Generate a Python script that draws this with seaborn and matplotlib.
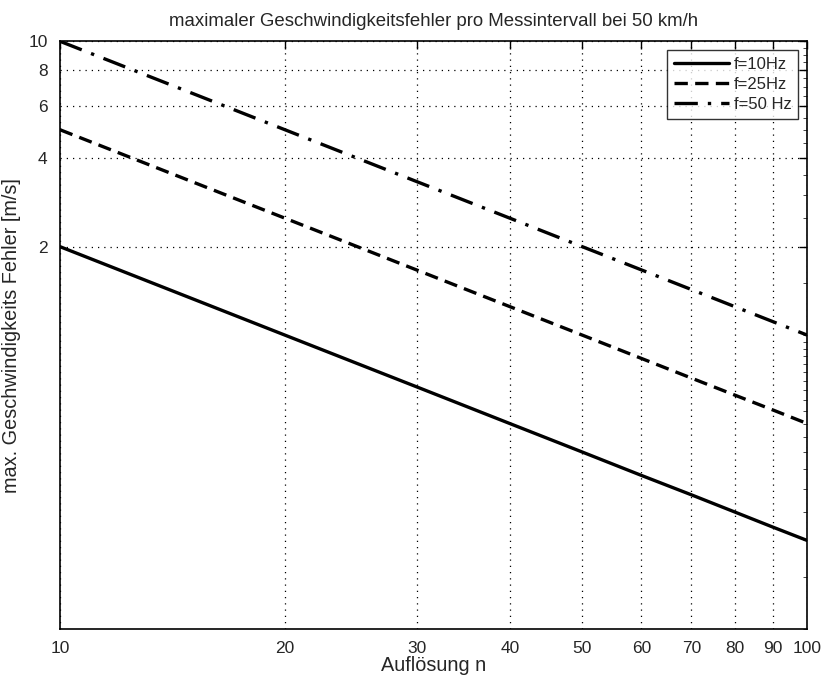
import numpy as np
import pandas as pd
import matplotlib
matplotlib.use("Agg")
import matplotlib.pyplot as plt
from matplotlib.ticker import FixedLocator, FixedFormatter, LogLocator, NullFormatter
import seaborn as sns

# --- Daten ---
aufloesung_n = [10, 20, 30, 40, 50, 60, 70, 80, 90, 100]
fehler_10hz = [2.0, 1.0, 0.667, 0.5, 0.4, 0.333, 0.286, 0.25, 0.222, 0.2]
fehler_25hz = [5.0, 2.5, 1.667, 1.25, 1.0, 0.833, 0.714, 0.625, 0.556, 0.5]
fehler_50hz = [10.0, 5.0, 3.333, 2.5, 2.0, 1.667, 1.429, 1.25, 1.111, 1.0]
serien = ["f=10Hz", "f=25Hz", "f=50 Hz"]

x_ticks = [10, 20, 30, 40, 50, 60, 70, 80, 90, 100]
y_ticks = [2, 4, 6, 8, 10]

df = pd.DataFrame({
    "n": aufloesung_n * 3,
    "fehler": fehler_10hz + fehler_25hz + fehler_50hz,
    "serie": [serien[0]] * 10 + [serien[1]] * 10 + [serien[2]] * 10,
})

sns.set_style("white")
plt.rcParams["font.family"] = ["Liberation Sans", "DejaVu Sans"]

fig = plt.figure(figsize=(8.22, 6.77), dpi=100)
ax = fig.add_axes([0.073, 0.071, 0.909, 0.868])

sns.lineplot(data=df, x="n", y="fehler", style="serie", color="black",
             dashes={serien[0]: "", serien[1]: (4, 2.2), serien[2]: (7, 3, 1, 3)},
             linewidth=2.4, ax=ax)

ax.set_xscale("log")
ax.set_yscale("log")
ax.set_xlim(10, 100)
ax.set_ylim(0.1, 10)

ax.xaxis.set_major_locator(FixedLocator(x_ticks))
ax.xaxis.set_major_formatter(FixedFormatter([str(t) for t in x_ticks]))
ax.xaxis.set_minor_locator(FixedLocator([]))
ax.yaxis.set_major_locator(FixedLocator(y_ticks))
ax.yaxis.set_major_formatter(FixedFormatter([str(t) for t in y_ticks]))
ax.yaxis.set_minor_locator(LogLocator(base=10, subs=np.arange(1, 10, 0.5)))
ax.yaxis.set_minor_formatter(NullFormatter())

ax.tick_params(which="major", direction="in", length=6, width=1, top=True, right=True,
               labelsize=12.5, color="black", pad=9)
ax.tick_params(which="minor", direction="in", length=3, width=0.6, top=True, right=True)
ax.grid(True, which="major", linestyle=(0, (1, 4)), color="black", linewidth=0.9)
for s in ax.spines.values():
    s.set_color("black")
    s.set_linewidth(1.2)

ax.set_title("maximaler Geschwindigkeitsfehler pro Messintervall bei 50 km/h", fontsize=13.4, pad=11)
ax.set_xlabel("Auflösung n", fontsize=14.3, labelpad=0)
ax.set_ylabel("max. Geschwindigkeits Fehler [m/s]", fontsize=14.3, labelpad=5)

leg = ax.legend(loc="upper right", fontsize=12, frameon=True, fancybox=False,
                edgecolor="black", handlelength=3.3, borderaxespad=0.55,
                handletextpad=0.3, labelspacing=0.3, borderpad=0.4)
leg.get_frame().set_linewidth(1.0)

fig.savefig("out.png", dpi=100)
